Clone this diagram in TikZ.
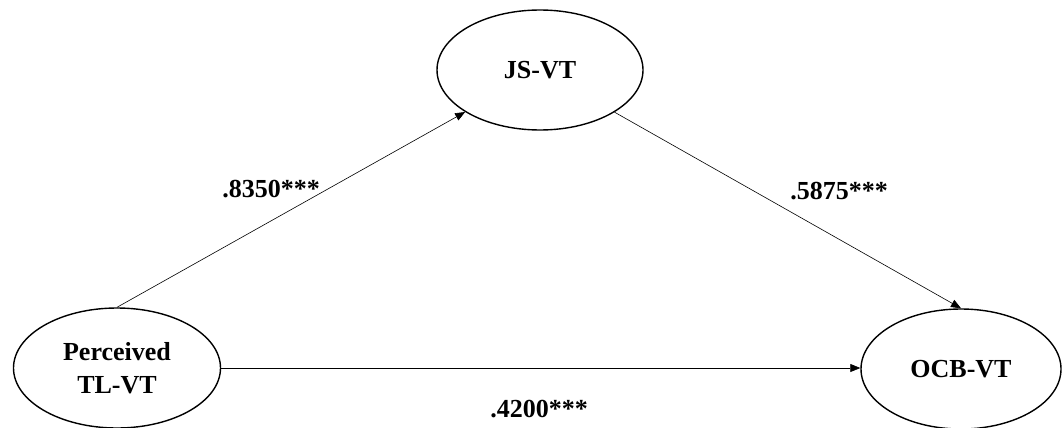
\documentclass[tikz,border=0pt]{standalone}
\usepackage{fontspec}
\setmainfont{Liberation Serif}
\usetikzlibrary{shapes.geometric,arrows.meta}
\begin{document}
\begin{tikzpicture}[x=1pt,y=-1pt,
  latent/.style={ellipse,draw,line width=1.4pt,minimum width=200pt,minimum height=120pt,inner sep=0pt,align=center,font=\fontsize{26}{33}\selectfont\bfseries},
  path/.style={line width=0.6pt,-{Triangle[length=10pt,width=8pt]}},
  coef/.style={font=\fontsize{26}{30}\selectfont\bfseries,inner sep=0pt}]
\useasboundingbox (0,0) rectangle (1062,428);
\node[latent,minimum width=206pt] (J) at (540,70) {JS-VT};
\node[latent,minimum width=207pt] (P) at (117,368) {Perceived\\TL-VT};
\node[latent] (O) at (961,369) {OCB-VT};
\draw[path] (P.north) -- (J);
\draw[path] (J) -- (O.north);
\draw[path] (P.east) -- (O.west |- P.east);
\node[coef] (c1) at (271,189) {.8350***};
\node[coef] (c2) at (839,191) {.5875***};
\node[coef] (c3) at (539,409) {.4200***};
\end{tikzpicture}
\end{document}
